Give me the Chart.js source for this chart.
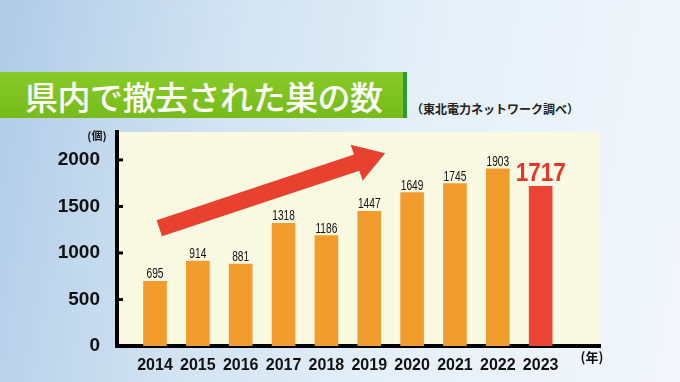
<!DOCTYPE html>
<html>
<head>
<meta charset="utf-8">
<script src="https://cdn.jsdelivr.net/npm/chart.js@4"></script>
<style>
  html, body { margin: 0; padding: 0; }
  body {
    width: 680px; height: 382px; overflow: hidden; position: relative;
    background: linear-gradient(100deg, #b0cbe7 0%, #d0e2f1 30%, #e5eff8 60%, #f3f7fb 100%);
  }
  #banner {
    position: absolute; left: 0; top: 72px; width: 403px; height: 46px;
    background: linear-gradient(#88cb28, #76bb1b);
    border-right: 4px solid #2e9a38;
  }
  #title {
    position: absolute; left: 25px; top: 73px; height: 46px; line-height: 46px;
    font-family: "Noto Sans CJK JP", sans-serif; font-weight: 500; font-size: 33px;
    color: #fff; letter-spacing: -0.5px;
  }
  #source {
    position: absolute; left: 411px; top: 100px;
    font-family: "Noto Sans CJK JP", sans-serif; font-weight: 700; font-size: 12px;
    color: #222;
  }
  canvas { position: absolute; left: 0; top: 0; }
</style>
</head>
<body>
<div id="banner"></div>
<div id="title">県内で撤去された巣の数</div>
<div id="source">（東北電力ネットワーク調べ）</div>
<canvas id="nestChart" width="680" height="382"></canvas>
<script>
// 県内で撤去された巣の数 (東北電力ネットワーク調べ)
const years = [2014, 2015, 2016, 2017, 2018, 2019, 2020, 2021, 2022, 2023];
const nests = [695, 914, 881, 1318, 1186, 1447, 1649, 1745, 1903, 1717];
const yTicks = [0, 500, 1000, 1500, 2000];
const barColors = ['#f39c2e', '#f39c2e', '#f39c2e', '#f39c2e', '#f39c2e',
  '#f39c2e', '#f39c2e', '#f39c2e', '#f39c2e', '#ec4434'];
// trend arrow, in data units: [year, count]
const arrowFrom = [2014.1, 1265];
const arrowTo = [2019.37, 2072];

const decor = {
  id: 'decor',
  beforeDraw(chart) {
    const {ctx, chartArea: a} = chart;
    ctx.save();
    ctx.fillStyle = '#fafae3';
    ctx.fillRect(a.left, a.top, a.right - a.left, a.bottom - a.top);
    ctx.restore();
  },
  afterDatasetsDraw(chart) {
    const {ctx, chartArea: a, scales: {x, y}} = chart;
    ctx.save();
    // inner tick marks
    ctx.strokeStyle = '#000';
    ctx.lineWidth = 3;
    yTicks.slice(1).forEach(v => {
      const py = y.getPixelForValue(v);
      ctx.beginPath();
      ctx.moveTo(a.left, py);
      ctx.lineTo(a.left + 6, py);
      ctx.stroke();
    });

    // value labels
    const meta = chart.getDatasetMeta(0);
    meta.data.forEach((bar, i) => {
      const last = i === nests.length - 1;
      ctx.save();
      ctx.translate(bar.x, bar.y - (last ? 5 : 3));
      ctx.textAlign = 'center';
      ctx.textBaseline = 'alphabetic';
      if (last) {
        ctx.fillStyle = '#e8352a';
        ctx.font = 'bold 25px "Liberation Sans", sans-serif';
        ctx.scale(0.9, 1);
      } else {
        ctx.fillStyle = '#111';
        ctx.font = '15px "Liberation Sans", sans-serif';
        ctx.scale(0.68, 1);
      }
      ctx.fillText(String(nests[i]), 0, 0);
      ctx.restore();
    });

    // arrow
    const x0 = x.getPixelForValue(arrowFrom[0]), y0 = y.getPixelForValue(arrowFrom[1]);
    const x1 = x.getPixelForValue(arrowTo[0]), y1 = y.getPixelForValue(arrowTo[1]);
    const len = Math.hypot(x1 - x0, y1 - y0);
    const ux = (x1 - x0) / len, uy = (y1 - y0) / len;
    const nx = -uy, ny = ux;
    const sw = 8.5, hw = 19, hl = 30;
    const bx = x1 - ux * hl, by = y1 - uy * hl;
    ctx.fillStyle = '#e9412f';
    ctx.beginPath();
    ctx.moveTo(x0 + nx * sw, y0 + ny * sw);
    ctx.lineTo(bx + nx * sw, by + ny * sw);
    ctx.lineTo(bx + nx * hw, by + ny * hw);
    ctx.lineTo(x1, y1);
    ctx.lineTo(bx - nx * hw, by - ny * hw);
    ctx.lineTo(bx - nx * sw, by - ny * sw);
    ctx.lineTo(x0 - nx * sw, y0 - ny * sw);
    ctx.closePath();
    ctx.fill();

    // unit labels
    ctx.fillStyle = '#111';
    ctx.font = 'bold 11px "Noto Sans CJK JP", sans-serif';
    ctx.textAlign = 'center';
    ctx.textBaseline = 'middle';
    ctx.fillText('(個)', a.left - 20, a.top + 4);
    ctx.font = 'bold 13px "Noto Sans CJK JP", sans-serif';
    ctx.fillText('(年)', a.right - 8, a.bottom + 11);
    ctx.restore();
  }
};

const ctx = document.getElementById('nestChart');
const nestChart = new Chart(ctx, {
  type: 'bar',
  data: {
    datasets: [{
      data: years.map((yr, i) => ({x: yr, y: nests[i]})),
      backgroundColor: barColors,
      barThickness: 23
    }]
  },
  plugins: [decor],
  options: {
    responsive: false,
    animation: false,
    layout: {
      padding: {top: 132, right: 80, left: 0, bottom: 0}
    },
    plugins: {
      legend: {display: false},
      tooltip: {enabled: false}
    },
    scales: {
      x: {
        type: 'linear',
        offset: false,
        min: 2013.113,
        max: 2024.385,
        grid: {display: false},
        border: {display: true, color: '#000', width: 4},
        afterBuildTicks: s => { s.ticks = years.map(v => ({value: v})); },
        afterFit: s => { s.height = 36; },
        ticks: {
          padding: 2,
          color: '#111',
          font: {family: '"Liberation Sans", sans-serif', size: 16, weight: 'bold'},
          callback: v => String(v)
        }
      },
      y: {
        min: 0,
        max: 2300,
        grid: {display: false},
        border: {display: true, color: '#000', width: 4},
        afterBuildTicks: s => { s.ticks = yTicks.map(v => ({value: v})); },
        afterFit: s => { s.width = 117; },
        ticks: {
          padding: 9,
          color: '#111',
          font: {family: '"Liberation Sans", sans-serif', size: 19, weight: 'bold'},
          callback: v => String(v)
        }
      }
    }
  }
});
</script>
</body>
</html>
